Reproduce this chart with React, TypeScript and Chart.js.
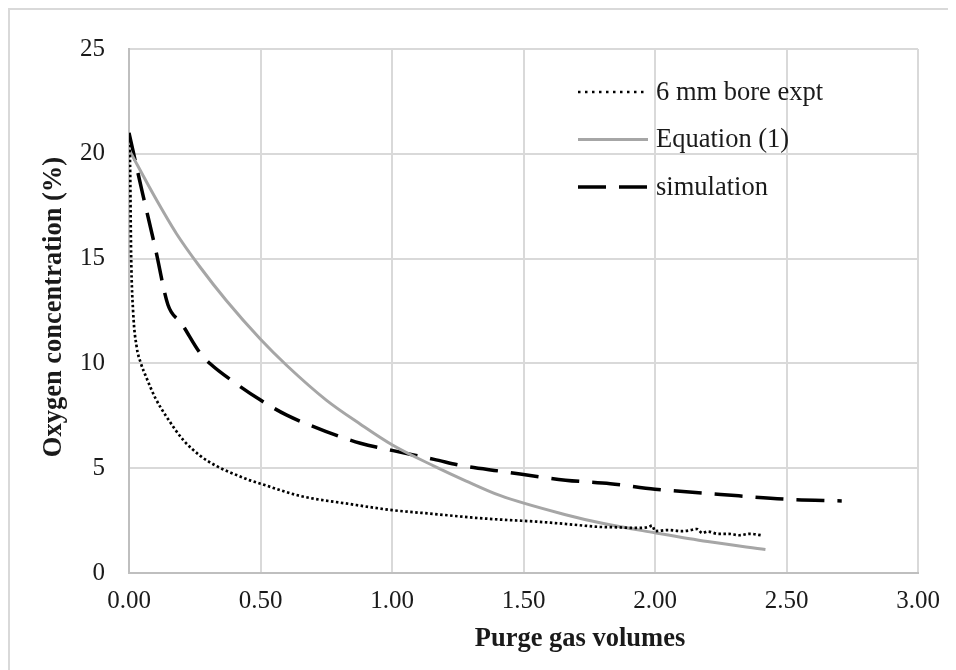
import React, { useEffect, useRef } from "react";
import { Chart, registerables } from "chart.js";

Chart.register(...registerables);

// ---- Data ----
const expX = [0, 0.004, 0.008, 0.016, 0.029, 0.044, 0.067, 0.1, 0.143, 0.206, 0.27, 0.333, 0.4, 0.46, 0.5, 0.65, 0.84, 1.0, 1.157, 1.3, 1.41, 1.55, 1.66, 1.79, 1.86, 1.92, 1.97, 1.99, 2.0, 2.05, 2.1, 2.13, 2.16, 2.18, 2.2, 2.24, 2.28, 2.32, 2.36, 2.41];
const expY = [20.9, 19.5, 15.2, 12.4, 10.8, 10.05, 9.3, 8.35, 7.45, 6.35, 5.6, 5.1, 4.72, 4.42, 4.26, 3.68, 3.29, 3.0, 2.82, 2.65, 2.55, 2.45, 2.34, 2.2, 2.18, 2.15, 2.17, 2.26, 2.0, 2.05, 2.0, 2.03, 2.1, 1.9, 1.98, 1.87, 1.87, 1.8, 1.87, 1.79];

const eqX = [0, 0.1, 0.18, 0.27, 0.37, 0.5, 0.6, 0.75, 0.88, 1.0, 1.16, 1.28, 1.41, 1.66, 1.8, 2.0, 2.2, 2.42];
const eqY = [20.2, 17.9, 16.2, 14.6, 13.0, 11.15, 9.9, 8.25, 7.1, 6.12, 5.1, 4.4, 3.7, 2.78, 2.37, 1.92, 1.5, 1.12];

const simX = [0, 0.05, 0.1, 0.148, 0.2, 0.27, 0.31, 0.4, 0.5, 0.6, 0.75, 0.88, 1.0, 1.16, 1.28, 1.41, 1.66, 1.83, 2.0, 2.25, 2.5, 2.71];
const simY = [21.0, 18.2, 15.5, 12.8, 11.9, 10.5, 9.97, 9.1, 8.25, 7.53, 6.75, 6.19, 5.85, 5.42, 5.09, 4.86, 4.43, 4.26, 4.0, 3.75, 3.52, 3.44];

const seriesNames = ["6 mm bore expt", "Equation (1)", "simulation"];
const xTitle = "Purge gas volumes";
const yTitle = "Oxygen concentration (%)";

const FONT = '"Liberation Serif", "Times New Roman", serif';

const toPts = (xs: number[], ys: number[]) => xs.map((x, i) => ({ x, y: ys[i] }));

const overlayPlugin = {
  id: "overlay",
  afterDraw(chart: any) {
    const ctx = chart.ctx as CanvasRenderingContext2D;
    ctx.save();
    // Legend
    const lx0 = 568;
    const lx1 = 638;
    const rowsY = [82, 129.5, 177];
    const legendDash = [[2.5, 4.5], [], [28, 13]];
    chart.data.datasets.forEach((ds: any, i: number) => {
      const y = rowsY[i];
      ctx.beginPath();
      ctx.setLineDash(legendDash[i]);
      ctx.lineWidth = ds.borderWidth;
      ctx.strokeStyle = ds.borderColor;
      ctx.lineCap = "butt";
      ctx.moveTo(lx0, y);
      ctx.lineTo(lx1, y);
      ctx.stroke();
      ctx.setLineDash([]);
      ctx.fillStyle = "#1a1a1a";
      ctx.font = `26.5px ${FONT}`;
      ctx.textAlign = "left";
      ctx.textBaseline = "middle";
      ctx.fillText(ds.label, 646, y + 1);
    });
    // Axis titles
    ctx.fillStyle = "#1a1a1a";
    ctx.font = `bold 26.5px ${FONT}`;
    ctx.textAlign = "center";
    ctx.textBaseline = "middle";
    ctx.fillText(xTitle, 570, 629);
    ctx.translate(44, 297);
    ctx.rotate(-Math.PI / 2);
    ctx.fillText(yTitle, 0, 0);
    ctx.restore();
  },
};

export default function App() {
  const ref = useRef<HTMLCanvasElement | null>(null);

  useEffect(() => {
    if (!ref.current) return;
    const chart = new Chart(ref.current, {
      type: "line",
      data: {
        datasets: [
          {
            label: seriesNames[0],
            data: toPts(expX, expY),
            borderColor: "#000000",
            borderWidth: 2.7,
            borderDash: [2.5, 2.5],
            pointRadius: 0,
            fill: false,
            cubicInterpolationMode: "monotone",
          },
          {
            label: seriesNames[1],
            data: toPts(eqX, eqY),
            borderColor: "#A6A6A6",
            borderWidth: 3,
            pointRadius: 0,
            fill: false,
            cubicInterpolationMode: "monotone",
          },
          {
            label: seriesNames[2],
            data: toPts(simX, simY),
            borderColor: "#000000",
            borderWidth: 3.5,
            borderDash: [28, 13],
            pointRadius: 0,
            fill: false,
            cubicInterpolationMode: "monotone",
          },
        ],
      },
      options: {
        responsive: false,
        animation: false,
        devicePixelRatio: 1,
        layout: { padding: { top: 32, right: 38, left: 0, bottom: 0 } },
        plugins: {
          legend: { display: false },
          tooltip: { enabled: false },
        },
        scales: {
          x: {
            type: "linear",
            min: 0,
            max: 3,
            afterFit: (s: any) => {
              s.height = 97;
            },
            grid: { color: "#D9D9D9", lineWidth: 2, drawTicks: false },
            border: { color: "#BFBFBF", width: 2 },
            ticks: {
              stepSize: 0.5,
              padding: 13,
              color: "#1a1a1a",
              font: { family: FONT, size: 25 },
              callback: (v: any) => Number(v).toFixed(2),
            },
          },
          y: {
            type: "linear",
            min: 0,
            max: 25,
            afterFit: (s: any) => {
              s.width = 119;
            },
            grid: { color: "#D9D9D9", lineWidth: 2, drawTicks: false },
            border: { color: "#BFBFBF", width: 2 },
            ticks: {
              stepSize: 5,
              padding: 24,
              color: "#1a1a1a",
              font: { family: FONT, size: 25 },
            },
          },
        },
      },
      plugins: [overlayPlugin],
    });
    return () => chart.destroy();
  }, []);

  return (
    <div
      style={{
        width: 948,
        height: 662,
        boxSizing: "border-box",
        borderLeft: "2px solid #D9D9D9",
        borderTop: "2px solid #D9D9D9",
        background: "#fff",
        overflow: "hidden",
      }}
    >
      <canvas ref={ref} width={946} height={660} style={{ display: "block" }} />
    </div>
  );
}
